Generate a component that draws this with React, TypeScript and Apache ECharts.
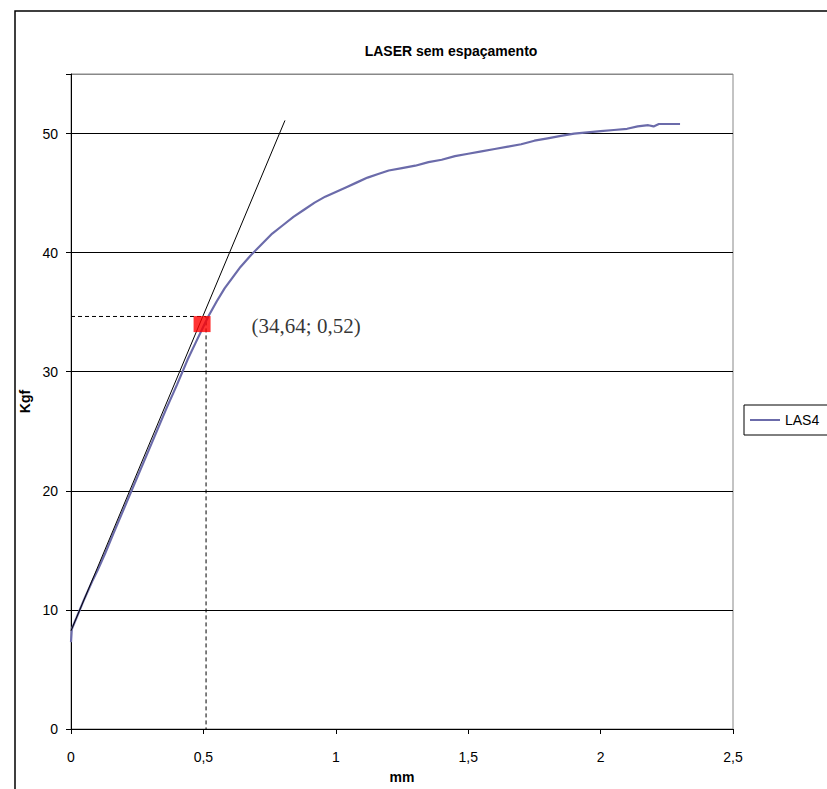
import React, { useEffect, useRef } from "react";
import * as echarts from "echarts";

const titleText = "LASER sem espaçamento";
const xTicks = [0, 0.5, 1, 1.5, 2, 2.5];
const yTicks = [0, 10, 20, 30, 40, 50];

const las4X = [0, 0.003, 0.02, 0.05, 0.08, 0.1, 0.13, 0.16, 0.2, 0.24, 0.28, 0.32, 0.36, 0.4, 0.44, 0.47, 0.5, 0.52, 0.55, 0.58, 0.61, 0.64, 0.68, 0.72, 0.76, 0.8, 0.84, 0.88, 0.92, 0.96, 1.0, 1.04, 1.08, 1.12, 1.16, 1.2, 1.25, 1.3, 1.35, 1.4, 1.45, 1.5, 1.55, 1.6, 1.65, 1.7, 1.75, 1.8, 1.85, 1.9, 1.95, 2.0, 2.05, 2.1, 2.14, 2.18, 2.2, 2.22, 2.3];
const las4Y = [7.3, 8.4, 9.3, 10.9, 12.4, 13.3, 14.8, 16.4, 18.5, 20.6, 22.7, 24.8, 26.9, 28.9, 31.0, 32.4, 33.8, 34.7, 35.9, 37.0, 37.9, 38.8, 39.8, 40.7, 41.6, 42.3, 43.0, 43.6, 44.2, 44.7, 45.1, 45.5, 45.9, 46.3, 46.6, 46.9, 47.1, 47.3, 47.6, 47.8, 48.1, 48.3, 48.5, 48.7, 48.9, 49.1, 49.4, 49.6, 49.8, 50.0, 50.1, 50.2, 50.3, 50.4, 50.6, 50.7, 50.6, 50.8, 50.8];

const tangentX = [0, 0.808];
const tangentY = [8.25, 51.1];

const guideX = [0, 0.51, 0.51];
const guideY = [34.64, 34.64, 0];

const pointX = [0.495];
const pointY = [34];
const pointLabel = "(34,64; 0,52)";

const fmt = (v: number) => String(v).replace(".", ",");

export default function App() {
  const ref = useRef<HTMLDivElement>(null);
  useEffect(() => {
    if (!ref.current) return;
    const chart = echarts.init(ref.current, undefined, { renderer: "svg" });
    const sans = "Liberation Sans, Arial, sans-serif";
    chart.setOption({
      animation: false,
      backgroundColor: "#fff",
      title: {
        text: titleText,
        left: 446,
        top: 39,
        textAlign: "center",
        textStyle: { fontFamily: sans, fontSize: 14, fontWeight: "bold", color: "#000" },
      },
      graphic: [
        {
          type: "rect",
          shape: { x: 15, y: 11, width: 900, height: 900 },
          style: { fill: "none", stroke: "#000", lineWidth: 1.5 },
          silent: true,
          z: 100,
        },
      ],
      legend: {
        data: [{ name: "LAS4", icon: "rect" }],
        left: 744,
        top: 405,
        orient: "vertical",
        borderColor: "#000",
        borderWidth: 1,
        borderRadius: 0,
        padding: [8, 20, 8, 6],
        itemWidth: 30,
        itemHeight: 2,
        itemGap: 0,
        textStyle: { fontFamily: sans, fontSize: 14, color: "#000" },
      },
      grid: {
        left: 71,
        width: 662,
        top: 74,
        height: 660,
        show: true,
        borderColor: "#888",
        borderWidth: 1,
        containLabel: false,
      },
      xAxis: {
        type: "value",
        min: xTicks[0],
        max: xTicks[xTicks.length - 1],
        interval: 0.5,
        name: "mm",
        nameLocation: "middle",
        nameGap: 41,
        nameTextStyle: { fontFamily: sans, fontSize: 14, fontWeight: "bold", color: "#000" },
        axisLine: { show: true, lineStyle: { color: "#000", width: 1 } },
        axisTick: { show: true, inside: false, length: 5, lineStyle: { color: "#000" } },
        axisLabel: { fontFamily: sans, fontSize: 14, color: "#000", margin: 21, formatter: (v: number) => fmt(v) },
        splitLine: { show: false },
      },
      yAxis: {
        type: "value",
        min: 0,
        max: 55,
        interval: 10,
        name: "Kgf",
        nameLocation: "middle",
        nameGap: 36,
        nameTextStyle: { fontFamily: sans, fontSize: 14, fontWeight: "bold", color: "#000" },
        axisLine: { show: true, lineStyle: { color: "#000", width: 1 } },
        axisTick: { show: true, inside: false, length: 5, lineStyle: { color: "#000" } },
        axisLabel: {
          fontFamily: sans,
          fontSize: 14,
          color: "#000",
          margin: 13,
          formatter: (v: number) => (yTicks.indexOf(v) >= 0 ? fmt(v) : ""),
        },
        splitLine: {
          show: true,
          lineStyle: { color: ["#000", "#000", "#000", "#000", "#000", "#000", "#888"], width: 1 },
        },
      },
      series: [
        {
          name: "LAS4",
          type: "line",
          data: las4X.map((x, i) => [x, las4Y[i]]),
          symbol: "none",
          showSymbol: false,
          lineStyle: { color: "#6b6baa", width: 2.2 },
          itemStyle: { color: "#6b6baa" },
          z: 3,
        },
        {
          name: "tangent",
          type: "line",
          data: tangentX.map((x, i) => [x, tangentY[i]]),
          symbol: "none",
          lineStyle: { color: "#000", width: 1 },
          z: 4,
        },
        {
          name: "guide",
          type: "line",
          data: guideX.map((x, i) => [x, guideY[i]]),
          symbol: "none",
          lineStyle: { color: "#000", width: 1, type: [4, 3] },
          z: 2,
        },
        {
          name: "ponto",
          type: "scatter",
          data: pointX.map((x, i) => [x, pointY[i]]),
          symbol: "rect",
          symbolSize: [17, 16],
          itemStyle: { color: "#ff0000" },
          label: {
            show: true,
            position: "right",
            distance: 41,
            offset: [0, 2],
            formatter: pointLabel,
            fontFamily: "Liberation Serif, Times New Roman, serif",
            fontSize: 21,
            color: "#000",
          },
          z: 5,
        },
      ],
    });
    return () => chart.dispose();
  }, []);
  return (
    <div
      ref={ref}
      style={{ position: "fixed", left: 0, top: 0, width: 827, height: 789 }}
    />
  );
}
